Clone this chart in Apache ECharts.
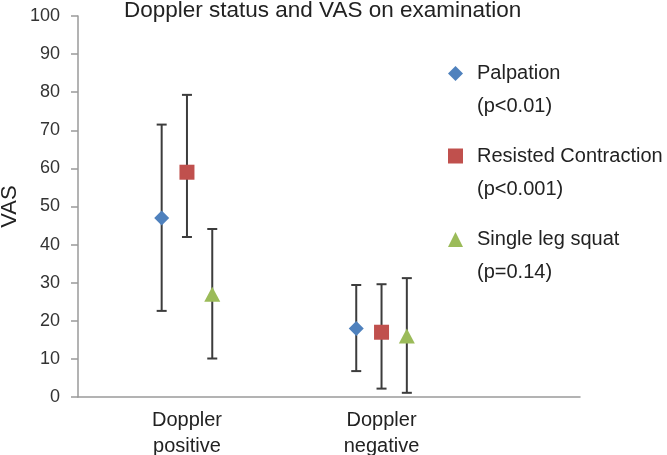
<!DOCTYPE html>
<html>
<head>
<meta charset="utf-8">
<script src="https://cdn.jsdelivr.net/npm/echarts@6/dist/echarts.min.js"></script>
<style>html,body{margin:0;padding:0;background:#fff;}#c{width:667px;height:455px;}</style>
</head>
<body>
<div id="c"></div>
<script>
// ---- data ----
var categories = ['Doppler\npositive', 'Doppler\nnegative'];
var seriesNames = ['Palpation', 'Resisted Contraction', 'Single leg squat'];
var pValues = ['(p<0.01)', '(p<0.001)', '(p=0.14)'];
var palpationMean = [47, 18];
var palpationLow = [22.6, 6.8];
var palpationHigh = [71.5, 29.4];
var resistedMean = [59, 17];
var resistedLow = [42, 2.2];
var resistedHigh = [79.3, 29.6];
var squatMean = [27, 16];
var squatLow = [10.1, 1.1];
var squatHigh = [44.1, 31.2];
var yTicks = [0, 10, 20, 30, 40, 50, 60, 70, 80, 90, 100];

// ---- presentation ----
var FONT = "'Liberation Sans', Arial, sans-serif";
var colors = ['#4F81BD', '#C0504D', '#9BBB59'];
var symbols = ['diamond', 'rect', 'triangle'];
var offsets = [-0.13, 0, 0.13];
var means = [palpationMean, resistedMean, squatMean];
var lows = [palpationLow, resistedLow, squatLow];
var highs = [palpationHigh, resistedHigh, squatHigh];

var series = [];
for (var s = 0; s < 3; s++) {
  var errData = [], ptData = [];
  for (var i = 0; i < categories.length; i++) {
    var x = i + offsets[s];
    errData.push([x, lows[s][i], highs[s][i]]);
    ptData.push([x, means[s][i]]);
  }
  series.push({
    type: 'custom',
    name: seriesNames[s] + '_err',
    data: errData,
    encode: { x: 0, y: [1, 2] },
    z: 2,
    silent: true,
    renderItem: function (params, api) {
      var x = api.value(0);
      var lo = api.coord([x, api.value(1)]);
      var hi = api.coord([x, api.value(2)]);
      var hw = 5;
      var st = { stroke: '#3c3c3c', lineWidth: 2 };
      return {
        type: 'group',
        children: [
          { type: 'line', shape: { x1: lo[0], y1: lo[1], x2: hi[0], y2: hi[1] }, style: st },
          { type: 'line', shape: { x1: lo[0] - hw, y1: lo[1], x2: lo[0] + hw, y2: lo[1] }, style: st },
          { type: 'line', shape: { x1: hi[0] - hw, y1: hi[1], x2: hi[0] + hw, y2: hi[1] }, style: st }
        ]
      };
    }
  });
  series.push({
    type: 'scatter',
    name: seriesNames[s],
    data: ptData,
    symbol: symbols[s],
    symbolSize: s === 2 ? [16, 15] : 15,
    itemStyle: { color: colors[s], opacity: 1 },
    z: 5
  });
}

var legendTops = [19, 101.5, 185];
var legends = [];
for (var k = 0; k < 3; k++) {
  (function (k) {
    legends.push({
      data: [{ name: seriesNames[k], icon: symbols[k] }],
      left: 443,
      top: legendTops[k],
      orient: 'vertical',
      itemWidth: 15,
      itemHeight: 15,
      itemGap: 0,
      selectedMode: false,
      formatter: function (name) { return ' \n' + name + '\n' + pValues[k]; },
      textStyle: { fontFamily: FONT, fontSize: 20, color: '#222', lineHeight: 33, padding: [0, 0, 0, 9] }
    });
  })(k);
}

var chart = echarts.init(document.getElementById('c'));
chart.setOption({
  animation: false,
  backgroundColor: '#fff',
  title: {
    text: 'Doppler status and VAS on examination',
    left: 124,
    top: 0,
    padding: 0,
    textStyle: { fontFamily: FONT, fontSize: 22.5, lineHeight: 22, fontWeight: 'normal', color: '#222' }
  },
  legend: legends,
  grid: { left: 78, right: 87, top: 16, bottom: 58, outerBoundsMode: 'none', containLabel: false },
  xAxis: {
    type: 'value',
    min: -0.56,
    max: 2.02,
    splitLine: { show: false },
    axisTick: { show: false },
    axisLine: { show: true, onZero: false, lineStyle: { color: '#9a9a9a', width: 1.5 } },
    axisLabel: {
      customValues: [0, 1],
      formatter: function (v) { return categories[Math.round(v)]; },
      fontFamily: FONT, fontSize: 20, color: '#222', lineHeight: 26, margin: 10
    }
  },
  yAxis: {
    type: 'value',
    min: yTicks[0],
    max: yTicks[yTicks.length - 1],
    interval: 10,
    name: 'VAS',
    nameLocation: 'middle',
    nameRotate: 90,
    nameGap: 57,
    nameMoveOverlap: false,
    nameTextStyle: { fontFamily: FONT, fontSize: 22, color: '#222' },
    splitLine: { show: false },
    axisLine: { show: true, onZero: false, lineStyle: { color: '#9a9a9a', width: 1.5 } },
    axisTick: { show: true, length: 7, lineStyle: { color: '#9a9a9a', width: 1.5 } },
    axisLabel: { fontFamily: FONT, fontSize: 18, color: '#333', margin: 18 }
  },
  series: series
});
</script>
</body>
</html>
